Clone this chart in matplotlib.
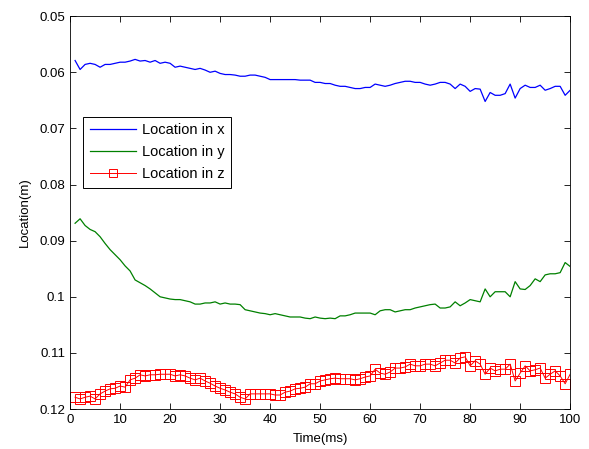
import matplotlib
matplotlib.use("Agg")
import matplotlib.pyplot as plt
import numpy as np
from matplotlib.ticker import FuncFormatter

plt.rcParams['font.family'] = ['Liberation Sans', 'DejaVu Sans']

# time axis (ms)
time_ms = np.arange(1, 101)

# location in x (m)
loc_x = [0.0579, 0.0595, 0.0586, 0.0584, 0.0586, 0.0591, 0.0586, 0.0586, 0.0584, 0.0582,
         0.0582, 0.0580, 0.0577, 0.0580, 0.0579, 0.0582, 0.0579, 0.0584, 0.0582, 0.0584,
         0.0591, 0.0589, 0.0591, 0.0593, 0.0595, 0.0593, 0.0596, 0.0600, 0.0598, 0.0602,
         0.0604, 0.0604, 0.0605, 0.0607, 0.0607, 0.0605, 0.0605, 0.0607, 0.0609, 0.0613,
         0.0613, 0.0613, 0.0613, 0.0613, 0.0613, 0.0614, 0.0614, 0.0614, 0.0618, 0.0618,
         0.0620, 0.0620, 0.0623, 0.0625, 0.0625, 0.0627, 0.0629, 0.0629, 0.0627, 0.0627,
         0.0621, 0.0623, 0.0625, 0.0623, 0.0620, 0.0618, 0.0616, 0.0616, 0.0618, 0.0618,
         0.0621, 0.0623, 0.0621, 0.0618, 0.0618, 0.0621, 0.0629, 0.0621, 0.0625, 0.0634,
         0.0629, 0.0630, 0.0652, 0.0636, 0.0641, 0.0641, 0.0638, 0.0621, 0.0646, 0.0629,
         0.0623, 0.0627, 0.0627, 0.0623, 0.0632, 0.0629, 0.0625, 0.0625, 0.0641, 0.0632]

# location in y (m)
loc_y = [0.0869, 0.0861, 0.0873, 0.0880, 0.0884, 0.0893, 0.0905, 0.0916, 0.0925, 0.0934,
         0.0945, 0.0954, 0.0970, 0.0975, 0.0980, 0.0986, 0.0993, 0.1000, 0.1002, 0.1004,
         0.1005, 0.1005, 0.1007, 0.1009, 0.1013, 0.1013, 0.1011, 0.1011, 0.1009, 0.1013,
         0.1011, 0.1013, 0.1013, 0.1014, 0.1023, 0.1025, 0.1027, 0.1029, 0.1030, 0.1032,
         0.1030, 0.1032, 0.1034, 0.1036, 0.1036, 0.1036, 0.1038, 0.1039, 0.1036, 0.1038,
         0.1039, 0.1038, 0.1039, 0.1034, 0.1034, 0.1032, 0.1029, 0.1029, 0.1029, 0.1029,
         0.1032, 0.1025, 0.1023, 0.1023, 0.1027, 0.1025, 0.1023, 0.1023, 0.1020, 0.1018,
         0.1016, 0.1014, 0.1013, 0.1020, 0.1020, 0.1018, 0.1009, 0.1016, 0.1011, 0.1005,
         0.1007, 0.1009, 0.0986, 0.1000, 0.0991, 0.0991, 0.0991, 0.1000, 0.0973, 0.0986,
         0.0987, 0.0980, 0.0968, 0.0973, 0.0961, 0.0959, 0.0959, 0.0957, 0.0939, 0.0946]

# location in z (m)
loc_z = [0.1179, 0.1182, 0.1179, 0.1177, 0.1182, 0.1173, 0.1168, 0.1164, 0.1163, 0.1159,
         0.1161, 0.1148, 0.1145, 0.1139, 0.1141, 0.1139, 0.1139, 0.1138, 0.1138, 0.1138,
         0.1141, 0.1139, 0.1141, 0.1145, 0.1148, 0.1145, 0.1150, 0.1154, 0.1159, 0.1163,
         0.1166, 0.1170, 0.1173, 0.1179, 0.1182, 0.1173, 0.1173, 0.1173, 0.1173, 0.1173,
         0.1175, 0.1175, 0.1170, 0.1168, 0.1164, 0.1163, 0.1161, 0.1155, 0.1155, 0.1150,
         0.1148, 0.1146, 0.1145, 0.1146, 0.1146, 0.1146, 0.1148, 0.1146, 0.1143, 0.1141,
         0.1129, 0.1136, 0.1138, 0.1134, 0.1127, 0.1127, 0.1125, 0.1120, 0.1123, 0.1123,
         0.1120, 0.1120, 0.1123, 0.1118, 0.1113, 0.1113, 0.1118, 0.1109, 0.1107, 0.1123,
         0.1114, 0.1120, 0.1138, 0.1127, 0.1132, 0.1129, 0.1129, 0.1120, 0.1150, 0.1136,
         0.1123, 0.1132, 0.1130, 0.1127, 0.1145, 0.1138, 0.1132, 0.1141, 0.1155, 0.1138]

fig = plt.figure(figsize=(5.89, 4.49), dpi=100)
ax = fig.add_axes([0.119, 0.089, 0.849, 0.875])

ax.plot(time_ms, loc_x, color='#0000ff', lw=0.9, label='Location in x')
ax.plot(time_ms, loc_y, color='#008000', lw=0.9, label='Location in y')
ax.plot(time_ms, loc_z, color='#ff0000', lw=0.7, marker='s', ms=7,
        mfc='none', mec='#ff0000', mew=0.7, label='Location in z')

ax.set_xlim(0, 100)
ax.set_ylim(0.12, 0.05)
ax.set_xticks(np.arange(0, 101, 10))
ax.set_yticks(np.arange(0.05, 0.1201, 0.01))
ax.yaxis.set_major_formatter(FuncFormatter(lambda v, p: '%g' % round(v, 2)))
ax.tick_params(direction='in', top=True, right=True, length=4, width=0.6,
               labelsize=9.5)
for s in ax.spines.values():
    s.set_linewidth(0.6)

ax.set_xlabel('Time(ms)', fontsize=9.5, labelpad=5)
ax.set_ylabel('Location(m)', fontsize=9.5, labelpad=6)

leg = ax.legend(loc='upper left', bbox_to_anchor=(0.026, 0.744), fontsize=10.5,
                frameon=True, fancybox=False, edgecolor='black', framealpha=1,
                borderaxespad=0, handlelength=3.2, handletextpad=0.4,
                borderpad=0.45, labelspacing=0.55, markerscale=0.9)
leg.get_frame().set_linewidth(0.7)

fig.savefig('out.png', dpi=100)
